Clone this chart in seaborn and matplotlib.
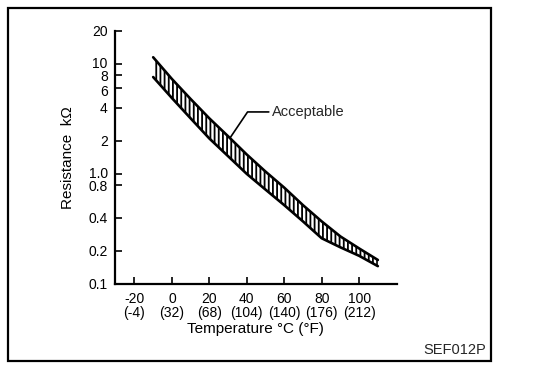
import numpy as np
import pandas as pd
import matplotlib
matplotlib.use("Agg")
import matplotlib.pyplot as plt
import matplotlib.transforms as mtrans
import seaborn as sns
from matplotlib.patches import Rectangle

# Thermistor resistance band
temp_c = [-10, 0, 10, 20, 30, 40, 50, 60, 70, 80, 90, 100, 110]
upper_kohm = [11.5, 7.3, 4.8, 3.2, 2.2, 1.5, 1.05, 0.75, 0.52, 0.37, 0.27, 0.21, 0.165]
lower_kohm = [7.6, 4.9, 3.2, 2.1, 1.45, 1.0, 0.72, 0.52, 0.37, 0.26, 0.215, 0.18, 0.145]

x_ticks = [-20, 0, 20, 40, 60, 80, 100]
x_tick_f = ["(-4)", "(32)", "(68)", "(104)", "(140)", "(176)", "(212)"]
y_ticks = [0.1, 0.2, 0.4, 0.8, 1.0, 2, 4, 6, 8, 10, 20]
y_tick_labels = ["0.1", "0.2", "0.4", "0.8", "1.0", "2", "4", "6", "8", "10", "20"]

df = pd.DataFrame({"temp": temp_c, "upper": upper_kohm, "lower": lower_kohm})

sns.set_theme(style="ticks")
plt.rcParams["font.family"] = ["Liberation Sans", "DejaVu Sans"]
plt.rcParams["hatch.linewidth"] = 1.3

fig = plt.figure(figsize=(5.44, 3.76), dpi=100)
ax = fig.add_axes([0.211, 0.245, 0.518, 0.673])

# hatched acceptable band
ax.fill_between(df["temp"], df["lower"], df["upper"], facecolor="white",
                edgecolor="black", hatch="||||", linewidth=0)
sns.lineplot(data=df, x="temp", y="upper", color="black", linewidth=1.9, ax=ax)
sns.lineplot(data=df, x="temp", y="lower", color="black", linewidth=1.9, ax=ax)

ax.set_yscale("log")
ax.set_ylim(0.1, 20)
ax.set_xlim(-30.5, 120)
ax.set_yticks(y_ticks)
ax.set_yticklabels(y_tick_labels)
ax.yaxis.set_minor_locator(matplotlib.ticker.NullLocator())
ax.set_xticks(x_ticks)
ax.set_xticklabels([f"{c}\n{f}" for c, f in zip(x_ticks, x_tick_f)], linespacing=0.95)
ax.tick_params(direction="in", length=5, width=1.2, labelsize=10, colors="black")
ax.tick_params(axis="x", pad=6)
ax.tick_params(axis="y", pad=5)

# crowded tick labels nudged apart a little (pixels)
nudge = {"10": 1.5, "8": -0.5, "6": -2, "1.0": 1.5, "0.8": -0.5}
for lab in ax.get_yticklabels():
    shift = nudge.get(lab.get_text(), 0)
    if shift:
        lab.set_transform(lab.get_transform() +
                          mtrans.ScaledTranslation(0, shift / 100, fig.dpi_scale_trans))

sns.despine(ax=ax)
for s in ["left", "bottom"]:
    ax.spines[s].set_linewidth(1.6)
    ax.spines[s].set_color("black")

ax.set_xlabel("Temperature °C (°F)", fontsize=11, labelpad=2, color="black")
ax.set_ylabel("Resistance  kΩ", fontsize=11, labelpad=10, color="black")

# leader to the band
xy_t = 31
xy_v = np.exp(np.interp(xy_t, temp_c, np.log(upper_kohm)))
ax.annotate("Acceptable", xy=(xy_t, xy_v), xytext=(53.5, 3.66), textcoords="data",
            fontsize=10.5, ha="left", va="center",
            arrowprops=dict(arrowstyle="-", color="black", lw=1.2,
                            connectionstyle="angle,angleA=0,angleB=56,rad=0",
                            shrinkA=0, shrinkB=0, relpos=(0, 0.5)))

# figure frame and code
fig.patches.append(Rectangle((0.0147, 0.04), 0.888, 0.939, transform=fig.transFigure,
                             fill=False, edgecolor="black", linewidth=1.6))
fig.text(0.893, 0.069, "SEF012P", ha="right", va="center", fontsize=10.5)

fig.savefig("out.png", dpi=100, facecolor="white")
